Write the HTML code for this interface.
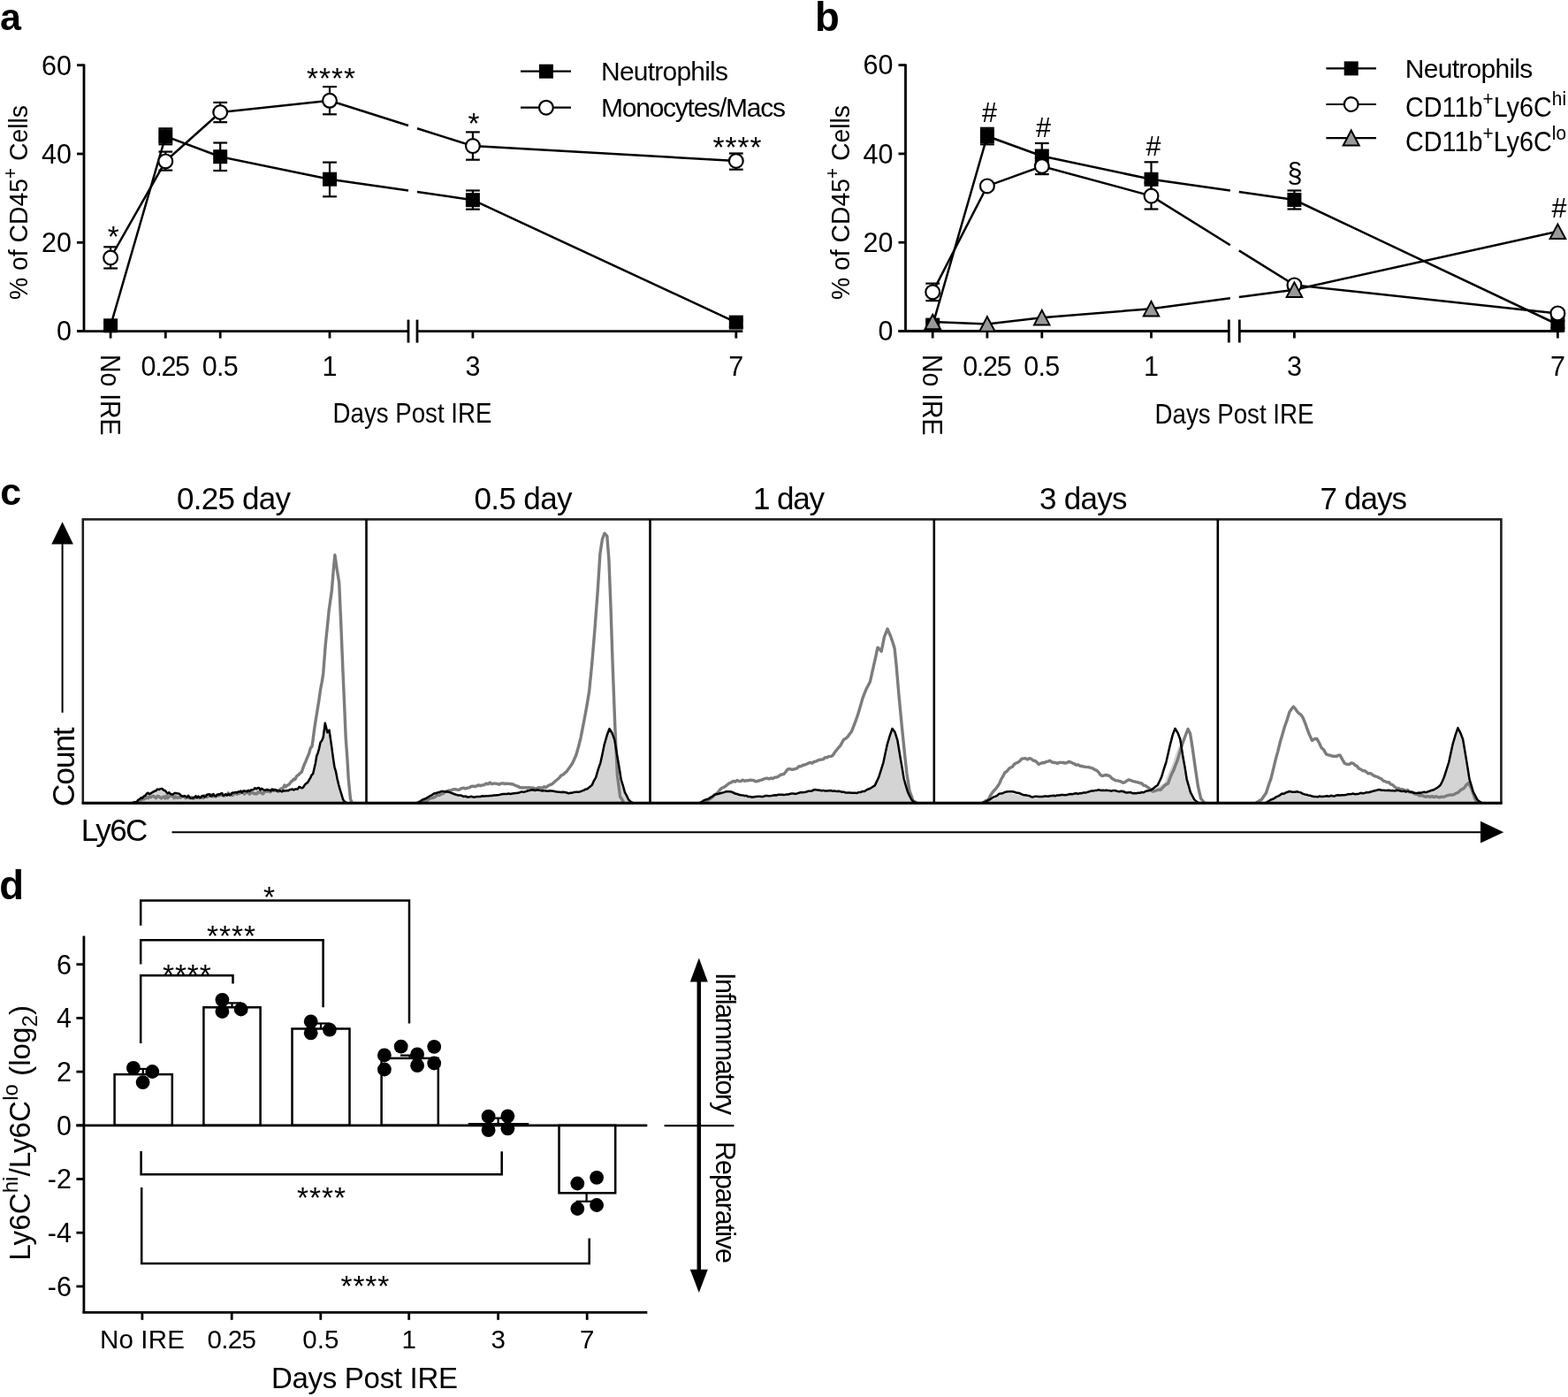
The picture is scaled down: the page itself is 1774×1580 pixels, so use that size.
<!DOCTYPE html><html><head><meta charset="utf-8"><title>Figure</title><style>html,body{margin:0;padding:0;background:#fff;}svg{display:block;}</style></head><body>
<svg width="1774" height="1580" viewBox="0 0 1774 1580" font-family='"Liberation Sans", Arial, sans-serif' fill="#000">
<rect width="1774" height="1580" fill="#fff"/>
<text x="0" y="34" font-size="43" font-weight="bold">a</text>
<text x="922" y="34.6" font-size="45.5" font-weight="bold">b</text>
<text x="0.3" y="571.3" font-size="43" font-weight="bold">c</text>
<text x="-0.7" y="1017" font-size="45.5" font-weight="bold">d</text>
<line x1="95" y1="72.4" x2="95" y2="376" stroke="#000" stroke-width="2.8"/>
<line x1="87" y1="374.6" x2="95" y2="374.6" stroke="#000" stroke-width="2.8"/>
<text x="81" y="385.4" font-size="30.5" text-anchor="end">0</text>
<line x1="87" y1="274.3" x2="95" y2="274.3" stroke="#000" stroke-width="2.8"/>
<text x="81" y="285.1" font-size="30.5" text-anchor="end">20</text>
<line x1="87" y1="174" x2="95" y2="174" stroke="#000" stroke-width="2.8"/>
<text x="81" y="184.8" font-size="30.5" text-anchor="end">40</text>
<line x1="87" y1="73.7" x2="95" y2="73.7" stroke="#000" stroke-width="2.8"/>
<text x="81" y="84.5" font-size="30.5" text-anchor="end">60</text>
<line x1="87" y1="374.6" x2="462" y2="374.6" stroke="#000" stroke-width="2.8"/>
<line x1="472" y1="374.6" x2="840.3" y2="374.6" stroke="#000" stroke-width="2.8"/>
<line x1="462" y1="361.6" x2="462" y2="387.6" stroke="#000" stroke-width="2.8"/>
<line x1="472" y1="361.6" x2="472" y2="387.6" stroke="#000" stroke-width="2.8"/>
<line x1="125.1" y1="374.6" x2="125.1" y2="382.6" stroke="#000" stroke-width="2.8"/>
<line x1="187.3" y1="374.6" x2="187.3" y2="382.6" stroke="#000" stroke-width="2.8"/>
<line x1="249.2" y1="374.6" x2="249.2" y2="382.6" stroke="#000" stroke-width="2.8"/>
<line x1="373" y1="374.6" x2="373" y2="382.6" stroke="#000" stroke-width="2.8"/>
<line x1="534.9" y1="374.6" x2="534.9" y2="382.6" stroke="#000" stroke-width="2.8"/>
<line x1="832.8" y1="374.6" x2="832.8" y2="382.6" stroke="#000" stroke-width="2.8"/>
<text x="187.3" y="425" font-size="30.5" text-anchor="middle" textLength="55.5" lengthAdjust="spacing">0.25</text>
<text x="249.2" y="425" font-size="30.5" text-anchor="middle" textLength="41" lengthAdjust="spacing">0.5</text>
<text x="373" y="425" font-size="30.5" text-anchor="middle">1</text>
<text x="534.9" y="425" font-size="30.5" text-anchor="middle">3</text>
<text x="832.8" y="425" font-size="30.5" text-anchor="middle">7</text>
<text x="113.6" y="401" font-size="30.5" textLength="91.5" lengthAdjust="spacingAndGlyphs" transform="rotate(90 113.6 401)">No IRE</text>
<text x="466.5" y="478" font-size="30.5" text-anchor="middle" textLength="180" lengthAdjust="spacingAndGlyphs">Days Post IRE</text>
<text transform="translate(31.3 339) rotate(-90)" font-size="29.5" textLength="220" lengthAdjust="spacingAndGlyphs">% of CD45<tspan font-size="21.5" dy="-12">+</tspan><tspan dy="12"> Cells</tspan></text>
<polyline points="125.1,368.3 187.3,154.2 249.2,177.2 373,202.7 462,215.6" fill="none" stroke="#000" stroke-width="2.5"/>
<polyline points="472,217.1 534.9,226.2 832.8,364.6" fill="none" stroke="#000" stroke-width="2.5"/>
<polyline points="125.1,291.5 187.3,182.4 249.2,127 373,113.8 462,142" fill="none" stroke="#000" stroke-width="2.5"/>
<polyline points="472,145.2 534.9,165.1 832.8,182" fill="none" stroke="#000" stroke-width="2.5"/>
<line x1="125.1" y1="365" x2="125.1" y2="372" stroke="#000" stroke-width="2.2"/>
<line x1="117.2" y1="365" x2="133" y2="365" stroke="#000" stroke-width="2.2"/>
<line x1="117.2" y1="372" x2="133" y2="372" stroke="#000" stroke-width="2.2"/>
<line x1="187.3" y1="145.3" x2="187.3" y2="163.3" stroke="#000" stroke-width="2.2"/>
<line x1="179.4" y1="145.3" x2="195.2" y2="145.3" stroke="#000" stroke-width="2.2"/>
<line x1="179.4" y1="163.3" x2="195.2" y2="163.3" stroke="#000" stroke-width="2.2"/>
<line x1="249.2" y1="161.5" x2="249.2" y2="193" stroke="#000" stroke-width="2.2"/>
<line x1="241.3" y1="161.5" x2="257.1" y2="161.5" stroke="#000" stroke-width="2.2"/>
<line x1="241.3" y1="193" x2="257.1" y2="193" stroke="#000" stroke-width="2.2"/>
<line x1="373" y1="183.6" x2="373" y2="222.3" stroke="#000" stroke-width="2.2"/>
<line x1="365.1" y1="183.6" x2="380.9" y2="183.6" stroke="#000" stroke-width="2.2"/>
<line x1="365.1" y1="222.3" x2="380.9" y2="222.3" stroke="#000" stroke-width="2.2"/>
<line x1="534.9" y1="215.5" x2="534.9" y2="236.7" stroke="#000" stroke-width="2.2"/>
<line x1="527" y1="215.5" x2="542.8" y2="215.5" stroke="#000" stroke-width="2.2"/>
<line x1="527" y1="236.7" x2="542.8" y2="236.7" stroke="#000" stroke-width="2.2"/>
<line x1="832.8" y1="362" x2="832.8" y2="370" stroke="#000" stroke-width="2.2"/>
<line x1="824.9" y1="362" x2="840.7" y2="362" stroke="#000" stroke-width="2.2"/>
<line x1="824.9" y1="370" x2="840.7" y2="370" stroke="#000" stroke-width="2.2"/>
<line x1="125.1" y1="279.3" x2="125.1" y2="303.5" stroke="#000" stroke-width="2.2"/>
<line x1="117.2" y1="279.3" x2="133" y2="279.3" stroke="#000" stroke-width="2.2"/>
<line x1="117.2" y1="303.5" x2="133" y2="303.5" stroke="#000" stroke-width="2.2"/>
<line x1="187.3" y1="171.6" x2="187.3" y2="192.6" stroke="#000" stroke-width="2.2"/>
<line x1="179.4" y1="171.6" x2="195.2" y2="171.6" stroke="#000" stroke-width="2.2"/>
<line x1="179.4" y1="192.6" x2="195.2" y2="192.6" stroke="#000" stroke-width="2.2"/>
<line x1="249.2" y1="115.9" x2="249.2" y2="138.2" stroke="#000" stroke-width="2.2"/>
<line x1="241.3" y1="115.9" x2="257.1" y2="115.9" stroke="#000" stroke-width="2.2"/>
<line x1="241.3" y1="138.2" x2="257.1" y2="138.2" stroke="#000" stroke-width="2.2"/>
<line x1="373" y1="98.1" x2="373" y2="129.3" stroke="#000" stroke-width="2.2"/>
<line x1="365.1" y1="98.1" x2="380.9" y2="98.1" stroke="#000" stroke-width="2.2"/>
<line x1="365.1" y1="129.3" x2="380.9" y2="129.3" stroke="#000" stroke-width="2.2"/>
<line x1="534.9" y1="149.4" x2="534.9" y2="180.7" stroke="#000" stroke-width="2.2"/>
<line x1="527" y1="149.4" x2="542.8" y2="149.4" stroke="#000" stroke-width="2.2"/>
<line x1="527" y1="180.7" x2="542.8" y2="180.7" stroke="#000" stroke-width="2.2"/>
<line x1="832.8" y1="173.5" x2="832.8" y2="191.7" stroke="#000" stroke-width="2.2"/>
<line x1="824.9" y1="173.5" x2="840.7" y2="173.5" stroke="#000" stroke-width="2.2"/>
<line x1="824.9" y1="191.7" x2="840.7" y2="191.7" stroke="#000" stroke-width="2.2"/>
<rect x="117.1" y="360.3" width="16" height="16" fill="#000"/>
<rect x="179.3" y="146.2" width="16" height="16" fill="#000"/>
<rect x="241.2" y="169.2" width="16" height="16" fill="#000"/>
<rect x="365" y="194.7" width="16" height="16" fill="#000"/>
<rect x="526.9" y="218.2" width="16" height="16" fill="#000"/>
<rect x="824.8" y="356.6" width="16" height="16" fill="#000"/>
<circle cx="125.1" cy="291.5" r="7.9" fill="#fff" stroke="#000" stroke-width="2.2"/>
<circle cx="187.3" cy="182.4" r="7.9" fill="#fff" stroke="#000" stroke-width="2.2"/>
<circle cx="249.2" cy="127" r="7.9" fill="#fff" stroke="#000" stroke-width="2.2"/>
<circle cx="373" cy="113.8" r="7.9" fill="#fff" stroke="#000" stroke-width="2.2"/>
<circle cx="534.9" cy="165.1" r="7.9" fill="#fff" stroke="#000" stroke-width="2.2"/>
<circle cx="832.8" cy="182" r="7.9" fill="#fff" stroke="#000" stroke-width="2.2"/>
<text x="128" y="304" font-size="36"></text>
<g font-size="37" text-anchor="middle">
<text x="128.2" y="279.3" font-size="33.5" text-anchor="middle">*</text>
<text x="374.6" y="100.3" font-size="33.5" text-anchor="middle" textLength="55" lengthAdjust="spacing">****</text>
<text x="536" y="151" font-size="33.5" text-anchor="middle">*</text>
<text x="834" y="177.9" font-size="33.5" text-anchor="middle" textLength="55" lengthAdjust="spacing">****</text>
</g>
<line x1="589" y1="80.7" x2="646" y2="80.7" stroke="#000" stroke-width="2.2"/>
<rect x="609.9" y="72.7" width="16" height="16" fill="#000"/>
<line x1="589" y1="121.7" x2="646" y2="121.7" stroke="#000" stroke-width="2.2"/>
<circle cx="617.9" cy="121.7" r="7.9" fill="#fff" stroke="#000" stroke-width="2.2"/>
<text x="680" y="91" font-size="30" textLength="144" lengthAdjust="spacing">Neutrophils</text>
<text x="680" y="132" font-size="30" textLength="209" lengthAdjust="spacing">Monocytes/Macs</text>
<line x1="1024.5" y1="72.4" x2="1024.5" y2="375.9" stroke="#000" stroke-width="2.8"/>
<line x1="1016.5" y1="374.5" x2="1024.5" y2="374.5" stroke="#000" stroke-width="2.8"/>
<text x="1010.5" y="385.3" font-size="30.5" text-anchor="end">0</text>
<line x1="1016.5" y1="274.2" x2="1024.5" y2="274.2" stroke="#000" stroke-width="2.8"/>
<text x="1010.5" y="285" font-size="30.5" text-anchor="end">20</text>
<line x1="1016.5" y1="173.9" x2="1024.5" y2="173.9" stroke="#000" stroke-width="2.8"/>
<text x="1010.5" y="184.7" font-size="30.5" text-anchor="end">40</text>
<line x1="1016.5" y1="73.6" x2="1024.5" y2="73.6" stroke="#000" stroke-width="2.8"/>
<text x="1010.5" y="84.4" font-size="30.5" text-anchor="end">60</text>
<line x1="1016.5" y1="374.5" x2="1390.3" y2="374.5" stroke="#000" stroke-width="2.8"/>
<line x1="1402.3" y1="374.5" x2="1769.9" y2="374.5" stroke="#000" stroke-width="2.8"/>
<line x1="1390.3" y1="361.5" x2="1390.3" y2="387.5" stroke="#000" stroke-width="2.8"/>
<line x1="1402.3" y1="361.5" x2="1402.3" y2="387.5" stroke="#000" stroke-width="2.8"/>
<line x1="1055.2" y1="374.5" x2="1055.2" y2="382.5" stroke="#000" stroke-width="2.8"/>
<line x1="1116.9" y1="374.5" x2="1116.9" y2="382.5" stroke="#000" stroke-width="2.8"/>
<line x1="1178.8" y1="374.5" x2="1178.8" y2="382.5" stroke="#000" stroke-width="2.8"/>
<line x1="1302.5" y1="374.5" x2="1302.5" y2="382.5" stroke="#000" stroke-width="2.8"/>
<line x1="1464.4" y1="374.5" x2="1464.4" y2="382.5" stroke="#000" stroke-width="2.8"/>
<line x1="1762.4" y1="374.5" x2="1762.4" y2="382.5" stroke="#000" stroke-width="2.8"/>
<text x="1116.9" y="425" font-size="30.5" text-anchor="middle" textLength="55.5" lengthAdjust="spacing">0.25</text>
<text x="1178.8" y="425" font-size="30.5" text-anchor="middle" textLength="41" lengthAdjust="spacing">0.5</text>
<text x="1302.5" y="425" font-size="30.5" text-anchor="middle">1</text>
<text x="1464.4" y="425" font-size="30.5" text-anchor="middle">3</text>
<text x="1762.4" y="425" font-size="30.5" text-anchor="middle">7</text>
<text x="1043.7" y="401" font-size="30.5" textLength="91.5" lengthAdjust="spacingAndGlyphs" transform="rotate(90 1043.7 401)">No IRE</text>
<text x="1396.5" y="479" font-size="30.5" text-anchor="middle" textLength="180" lengthAdjust="spacingAndGlyphs">Days Post IRE</text>
<text transform="translate(960.8 339) rotate(-90)" font-size="29.5" textLength="220" lengthAdjust="spacingAndGlyphs">% of CD45<tspan font-size="21.5" dy="-12">+</tspan><tspan dy="12"> Cells</tspan></text>
<polyline points="1055.2,367.6 1116.9,154 1178.8,176.5 1302.5,202.8 1391.8,215.6" fill="none" stroke="#000" stroke-width="2.5"/>
<polyline points="1401.8,217 1464.4,226 1762.4,367" fill="none" stroke="#000" stroke-width="2.5"/>
<polyline points="1055.2,330.4 1116.9,210.4 1178.8,188 1302.5,221.6 1391.8,277.2" fill="none" stroke="#000" stroke-width="2.5"/>
<polyline points="1401.8,283.4 1464.4,322.4 1762.4,354.4" fill="none" stroke="#000" stroke-width="2.5"/>
<polyline points="1055.2,364 1116.9,366.5 1178.8,359.2 1302.5,349.2 1391.8,337.3" fill="none" stroke="#000" stroke-width="2.5"/>
<polyline points="1401.8,336 1464.4,327.7 1762.4,261.8" fill="none" stroke="#000" stroke-width="2.5"/>
<line x1="1055.2" y1="364" x2="1055.2" y2="371" stroke="#000" stroke-width="2.2"/>
<line x1="1047.3" y1="364" x2="1063.1" y2="364" stroke="#000" stroke-width="2.2"/>
<line x1="1047.3" y1="371" x2="1063.1" y2="371" stroke="#000" stroke-width="2.2"/>
<line x1="1116.9" y1="144.8" x2="1116.9" y2="163.3" stroke="#000" stroke-width="2.2"/>
<line x1="1109" y1="144.8" x2="1124.8" y2="144.8" stroke="#000" stroke-width="2.2"/>
<line x1="1109" y1="163.3" x2="1124.8" y2="163.3" stroke="#000" stroke-width="2.2"/>
<line x1="1178.8" y1="162" x2="1178.8" y2="191" stroke="#000" stroke-width="2.2"/>
<line x1="1170.9" y1="162" x2="1186.7" y2="162" stroke="#000" stroke-width="2.2"/>
<line x1="1170.9" y1="191" x2="1186.7" y2="191" stroke="#000" stroke-width="2.2"/>
<line x1="1302.5" y1="183.3" x2="1302.5" y2="222" stroke="#000" stroke-width="2.2"/>
<line x1="1294.6" y1="183.3" x2="1310.4" y2="183.3" stroke="#000" stroke-width="2.2"/>
<line x1="1294.6" y1="222" x2="1310.4" y2="222" stroke="#000" stroke-width="2.2"/>
<line x1="1464.4" y1="215.5" x2="1464.4" y2="236.5" stroke="#000" stroke-width="2.2"/>
<line x1="1456.5" y1="215.5" x2="1472.3" y2="215.5" stroke="#000" stroke-width="2.2"/>
<line x1="1456.5" y1="236.5" x2="1472.3" y2="236.5" stroke="#000" stroke-width="2.2"/>
<line x1="1762.4" y1="363" x2="1762.4" y2="371" stroke="#000" stroke-width="2.2"/>
<line x1="1754.5" y1="363" x2="1770.3" y2="363" stroke="#000" stroke-width="2.2"/>
<line x1="1754.5" y1="371" x2="1770.3" y2="371" stroke="#000" stroke-width="2.2"/>
<line x1="1055.2" y1="320.6" x2="1055.2" y2="340.1" stroke="#000" stroke-width="2.2"/>
<line x1="1047.3" y1="320.6" x2="1063.1" y2="320.6" stroke="#000" stroke-width="2.2"/>
<line x1="1047.3" y1="340.1" x2="1063.1" y2="340.1" stroke="#000" stroke-width="2.2"/>
<line x1="1116.9" y1="207" x2="1116.9" y2="214" stroke="#000" stroke-width="2.2"/>
<line x1="1109" y1="207" x2="1124.8" y2="207" stroke="#000" stroke-width="2.2"/>
<line x1="1109" y1="214" x2="1124.8" y2="214" stroke="#000" stroke-width="2.2"/>
<line x1="1178.8" y1="179" x2="1178.8" y2="197.1" stroke="#000" stroke-width="2.2"/>
<line x1="1170.9" y1="179" x2="1186.7" y2="179" stroke="#000" stroke-width="2.2"/>
<line x1="1170.9" y1="197.1" x2="1186.7" y2="197.1" stroke="#000" stroke-width="2.2"/>
<line x1="1302.5" y1="206.7" x2="1302.5" y2="236.5" stroke="#000" stroke-width="2.2"/>
<line x1="1294.6" y1="206.7" x2="1310.4" y2="206.7" stroke="#000" stroke-width="2.2"/>
<line x1="1294.6" y1="236.5" x2="1310.4" y2="236.5" stroke="#000" stroke-width="2.2"/>
<line x1="1464.4" y1="319" x2="1464.4" y2="326" stroke="#000" stroke-width="2.2"/>
<line x1="1456.5" y1="319" x2="1472.3" y2="319" stroke="#000" stroke-width="2.2"/>
<line x1="1456.5" y1="326" x2="1472.3" y2="326" stroke="#000" stroke-width="2.2"/>
<line x1="1762.4" y1="351" x2="1762.4" y2="358" stroke="#000" stroke-width="2.2"/>
<line x1="1754.5" y1="351" x2="1770.3" y2="351" stroke="#000" stroke-width="2.2"/>
<line x1="1754.5" y1="358" x2="1770.3" y2="358" stroke="#000" stroke-width="2.2"/>
<rect x="1047.2" y="359.6" width="16" height="16" fill="#000"/>
<rect x="1108.9" y="146" width="16" height="16" fill="#000"/>
<rect x="1170.8" y="168.5" width="16" height="16" fill="#000"/>
<rect x="1294.5" y="194.8" width="16" height="16" fill="#000"/>
<rect x="1456.4" y="218" width="16" height="16" fill="#000"/>
<rect x="1754.4" y="359" width="16" height="16" fill="#000"/>
<circle cx="1055.2" cy="330.4" r="7.9" fill="#fff" stroke="#000" stroke-width="2.2"/>
<circle cx="1116.9" cy="210.4" r="7.9" fill="#fff" stroke="#000" stroke-width="2.2"/>
<circle cx="1178.8" cy="188" r="7.9" fill="#fff" stroke="#000" stroke-width="2.2"/>
<circle cx="1302.5" cy="221.6" r="7.9" fill="#fff" stroke="#000" stroke-width="2.2"/>
<circle cx="1464.4" cy="322.4" r="7.9" fill="#fff" stroke="#000" stroke-width="2.2"/>
<circle cx="1762.4" cy="354.4" r="7.9" fill="#fff" stroke="#000" stroke-width="2.2"/>
<polygon points="1055.2,355.8 1064,372.2 1046.5,372.2" fill="#999" stroke="#000" stroke-width="2" stroke-linejoin="miter"/>
<polygon points="1116.9,358.2 1125.7,374.8 1108.2,374.8" fill="#999" stroke="#000" stroke-width="2" stroke-linejoin="miter"/>
<polygon points="1178.8,350.9 1187.5,367.4 1170,367.4" fill="#999" stroke="#000" stroke-width="2" stroke-linejoin="miter"/>
<polygon points="1302.5,340.9 1311.2,357.4 1293.8,357.4" fill="#999" stroke="#000" stroke-width="2" stroke-linejoin="miter"/>
<polygon points="1464.4,319.4 1473.2,335.9 1455.7,335.9" fill="#999" stroke="#000" stroke-width="2" stroke-linejoin="miter"/>
<polygon points="1762.4,253.6 1771.2,270.1 1753.7,270.1" fill="#999" stroke="#000" stroke-width="2" stroke-linejoin="miter"/>
<text x="1119.5" y="137.5" font-size="30.5" text-anchor="middle">#</text>
<text x="1180.5" y="154.5" font-size="30.5" text-anchor="middle">#</text>
<text x="1305" y="175.5" font-size="30.5" text-anchor="middle">#</text>
<text x="1465" y="205.5" font-size="30.5" text-anchor="middle">§</text>
<text x="1764" y="246" font-size="30.5" text-anchor="middle">#</text>
<line x1="1500.4" y1="77.4" x2="1557" y2="77.4" stroke="#000" stroke-width="2.2"/>
<rect x="1520.7" y="69.4" width="16" height="16" fill="#000"/>
<line x1="1500.4" y1="118" x2="1557" y2="118" stroke="#000" stroke-width="2.2"/>
<circle cx="1528.7" cy="118" r="7.9" fill="#fff" stroke="#000" stroke-width="2.2"/>
<line x1="1500.4" y1="156.2" x2="1557" y2="156.2" stroke="#000" stroke-width="2.2"/>
<polygon points="1528.7,147.5 1537.7,164.5 1519.7,164.5" fill="#999" stroke="#000" stroke-width="2" stroke-linejoin="miter"/>
<text x="1589.8" y="88" font-size="30" textLength="144.5" lengthAdjust="spacing">Neutrophils</text>
<text x="1590" y="132" font-size="30.5" textLength="182" lengthAdjust="spacingAndGlyphs">CD11b<tspan font-size="22" dy="-13">+</tspan><tspan dy="13">Ly6C</tspan><tspan font-size="22" dy="-13">hi</tspan></text>
<text x="1590" y="170.5" font-size="30.5" textLength="182" lengthAdjust="spacingAndGlyphs">CD11b<tspan font-size="22" dy="-13">+</tspan><tspan dy="13">Ly6C</tspan><tspan font-size="22" dy="-13">lo</tspan></text>
<text x="200" y="575.5" font-size="35" textLength="129" lengthAdjust="spacing">0.25 day</text>
<text x="536.5" y="575.5" font-size="35" textLength="111" lengthAdjust="spacing">0.5 day</text>
<text x="852" y="575.5" font-size="35" textLength="81" lengthAdjust="spacing">1 day</text>
<text x="1176" y="575.5" font-size="35" textLength="99.5" lengthAdjust="spacing">3 days</text>
<text x="1493.5" y="575.5" font-size="35" textLength="98.5" lengthAdjust="spacing">7 days</text>
<path d="M149.4,908.2 L149.4,908.3 L157.9,904.5 L164.2,899.2 L174.8,893.9 L181.2,892.8 L189.7,896 L200.3,898.1 L217.3,902 L238.5,899.2 L259.7,898.1 L280.9,893.9 L291.5,892.2 L302.1,893.5 L323.3,894.3 L333.9,891.8 L344.5,889.2 L349.8,883.3 L354.1,874.8 L358.3,855.7 L362.5,840.9 L365.7,832.4 L367.8,818.6 L370.4,827.1 L372.5,826 L375.3,845.1 L378.4,866.3 L381.6,881.2 L384.8,893.9 L388,904.5 L392.2,908.3 L392.2,908.2 Z" fill="#d4d4d4" stroke="none"/>
<path d="M471.5,908.2 L471.5,908.3 L482.1,902.8 L490.6,898.1 L499.1,895.6 L507.6,895.6 L516,898.6 L528.8,901.3 L541.5,900.9 L558.5,899.4 L579.7,897.5 L592.4,895.6 L600.9,893.5 L613.6,894.3 L622.1,894.3 L632.7,895.6 L643.3,897.1 L653.9,896 L664.5,892.2 L669.8,888 L674.1,879 L679.4,862.1 L683.6,843 L686.8,831.3 L689.5,823.9 L692.5,828.6 L695.3,836.6 L698.4,855.7 L702.7,881.2 L706.9,896 L711.2,904.5 L716.5,908.3 L716.5,908.2 Z" fill="#d4d4d4" stroke="none"/>
<path d="M791.5,908.2 L791.5,908.3 L802.1,902.8 L810.6,898.1 L819.1,895.6 L827.6,895.6 L836,898.6 L848.8,901.3 L861.5,900.9 L878.5,899.4 L899.7,897.5 L912.4,895.6 L920.9,893.5 L933.6,894.3 L942.1,894.3 L952.7,895.6 L963.3,897.1 L973.9,896 L984.5,892.2 L989.8,888 L994.1,879 L999.4,862.1 L1003.6,843 L1006.8,831.3 L1009.5,823.9 L1012.5,828.6 L1015.3,836.6 L1018.4,855.7 L1022.7,881.2 L1026.9,896 L1031.2,904.5 L1036.5,908.3 L1036.5,908.2 Z" fill="#d4d4d4" stroke="none"/>
<path d="M1113.6,908.2 L1113.6,908.3 L1124.2,903.4 L1134.8,898.1 L1143.3,897.1 L1153.9,899.2 L1168.8,902.4 L1198.5,900.3 L1219.7,898.1 L1240.9,895 L1262.1,895.6 L1283.3,897.1 L1304.5,893.9 L1317.2,885.4 L1325.7,866.3 L1330,853.6 L1333.8,843 L1336.7,847.2 L1340.6,866.3 L1344.8,889.7 L1349,904.5 L1352.2,908.3 L1352.2,908.2 Z" fill="#d4d4d4" stroke="none"/>
<path d="M1431.5,908.2 L1431.5,908.1 L1442.1,902.6 L1450.5,897.9 L1459,895.4 L1467.5,895.4 L1476,898.4 L1488.7,901.1 L1501.4,900.7 L1518.4,899.2 L1539.6,897.3 L1552.3,895.4 L1560.8,893.3 L1573.5,894.1 L1582,894.1 L1592.6,895.4 L1603.1,896.9 L1613.7,895.8 L1624.3,892 L1629.6,887.8 L1633.9,878.9 L1639.2,861.9 L1643.4,842.8 L1646.6,831.2 L1649.4,823.7 L1652.3,828.4 L1655.1,836.5 L1658.3,855.5 L1662.5,881 L1666.7,895.8 L1671,904.3 L1676.3,908.1 L1676.3,908.2 Z" fill="#d4d4d4" stroke="none"/>
<polyline points="153.6,908.2 155.2,907.4 156.8,905.8 158.4,904.3 160,905 161.5,902.8 163,903.9 164.5,903 166,901.6 167.6,902.7 169.1,900.8 170.6,901.7 172.1,900.5 173.6,900.5 175,901.5 176.5,902.7 178,900.4 179.5,900.7 181,901.9 182.5,902.9 184,901.6 185.4,901 186.9,902.9 188.3,900 189.8,902.6 191.2,900.8 192.7,900.4 194.1,900.4 195.6,901 197,902.7 198.5,900.7 199.9,902.1 201.3,902.3 202.8,901.5 204.2,902.1 205.7,900.6 207.1,900.6 208.6,901.1 210,902.7 211.5,902 212.9,901.6 214.4,902.6 215.8,902.2 217.3,901.7 218.7,903.2 220.1,902.7 221.5,901.1 222.9,902 224.3,901.7 225.7,902.7 227.2,902.1 228.6,900.6 230,902.6 231.4,899.7 232.8,900.6 234.2,901.5 235.6,899.4 237,900.4 238.5,898.8 239.9,900.7 241.3,900.8 242.7,900.1 244.1,900.9 245.5,899 246.9,900 248.4,899.6 249.8,899.4 251.2,898.8 252.6,899.9 254,900.1 255.4,898.5 256.8,898.9 258.3,896.9 259.7,898.8 261.1,898.5 262.5,899.6 263.9,899 265.3,897.2 266.7,897.4 268.2,898.2 269.6,896.1 271,897.4 272.4,896.4 273.8,896.2 275.2,895.9 276.6,898.1 278.1,896 279.5,896.3 280.9,896.7 282.3,898.2 283.7,895.6 285.1,896.7 286.5,896.9 287.9,897.9 289.4,897.7 290.8,897.7 292.2,895.8 293.6,896.2 295,895.9 296.4,897.5 297.8,897.7 299.3,895 300.7,895 302.1,895.2 303.5,894.9 304.9,895.5 306.3,895.6 307.7,894.3 309.2,893.2 310.6,894.3 312,893.9 313.4,894.3 314.8,895.3 316.2,893.6 317.6,892.2 319.1,891.6 320.5,890.9 321.9,888 323.3,889.9 324.8,888.4 326.3,887.7 327.8,886.4 329.4,884 330.9,883 332.4,881 333.9,881.6 335.4,878.3 336.9,876.8 338.4,875.8 339.8,874.1 341.3,873.2 342.9,868.3 344.5,864.2 346.1,860.7 347.7,856.6 349.5,852.5 351.2,846.4 353,844.2 354.4,834.2 355.8,823.5 357.2,814.6 359,803.6 360.8,792.4 362.5,780.3 364.1,772 365.7,761.9 368.3,728.4 370.2,710.4 372.1,691.1 373.7,679.5 375.3,668.6 377.4,642.9 378.9,627.7 381,642.5 383.7,659.1 385.9,708.7 388,760.4 389.6,796.3 391.2,834.6 392.8,856.3 394.3,881.3 396.5,903.9 398.6,908.3" fill="none" stroke="#7c7c7c" stroke-width="3.4" stroke-linejoin="round"/>
<polyline points="149.4,908.2 150.8,907.7 152.2,907 153.6,907.5 155,906.4 156.5,904.4 157.9,904.1 159.5,902.2 161,902.7 162.6,900.6 164.2,900 165.7,897.9 167.3,896.8 168.8,897.9 170.3,897.6 171.8,896.5 173.3,895.6 174.8,894.8 176.4,894.3 178,892.5 179.6,893.1 181.2,892.4 182.6,891.9 184,892.5 185.4,893.8 186.9,894.2 188.3,896.1 189.7,897.4 191.2,896.2 192.7,897.9 194.2,898.4 195.7,898.6 197.3,897.1 198.8,897 200.3,897.3 201.7,897.5 203.1,897.9 204.5,899.5 205.9,900.6 207.4,900.7 208.8,900 210.2,900.8 211.6,901.6 213,899.8 214.4,901.8 215.8,902.9 217.3,902.8 218.7,902.5 220.1,901.5 221.5,900.4 222.9,902.1 224.3,900.5 225.7,901.8 227.2,902.1 228.6,900.2 230,900 231.4,901.5 232.8,900.6 234.2,898.8 235.6,898.4 237,898.3 238.5,900.4 239.9,900 241.3,898 242.7,900 244.1,900.4 245.5,899.3 246.9,898.3 248.4,898.8 249.8,897.5 251.2,897.1 252.6,899.9 254,898.9 255.4,898.4 256.8,899.6 258.3,898 259.7,899.2 261.1,898.8 262.5,896.7 263.9,896.5 265.3,896.4 266.7,895.9 268.2,896.7 269.6,895.4 271,895.6 272.4,894.5 273.8,896.5 275.2,894.6 276.6,894.6 278.1,894.7 279.5,895.4 280.9,893.7 282.4,894.9 283.9,893.4 285.4,893.3 286.9,893 288.5,891.2 290,892.3 291.5,891.2 293,890.9 294.5,893.5 296,891.8 297.5,892.8 299.1,893.8 300.6,893.5 302.1,892.9 303.5,893.6 304.9,893.7 306.3,894.5 307.7,892.5 309.2,893.9 310.6,893.1 312,893.2 313.4,894.7 314.8,894 316.2,894.2 317.6,894.9 319.1,895.4 320.5,894 321.9,894.6 323.3,894.3 324.8,894 326.3,894.2 327.8,893.1 329.4,893 330.9,892.4 332.4,893.5 333.9,892.4 335.4,892.5 336.9,892.4 338.4,890 340,890.5 341.5,891.3 343,890.6 344.5,888.1 346.3,886.1 348,885.1 349.8,882 351.2,879.7 352.6,876.4 354.1,875.3 355.5,869.3 356.9,863.3 358.3,854.7 359.7,851.4 361.1,846.3 362.5,839.8 364.1,837.8 365.7,833.8 367.8,817.8 370.4,828.4 372.5,825.7 375.3,845.1 376.9,857.2 378.4,867.3 380,872.7 381.6,881 383.2,887.6 384.8,893.4 386.4,898.3 388,904 389.4,906.4 390.8,907 392.2,908.3" fill="none" stroke="#000" stroke-width="2.5" stroke-linejoin="round"/>
<polyline points="473.6,908.2 475.7,907.6 477.9,906.9 480,905.5 482.1,905.6 484.2,904.6 486.4,903 488.5,902.6 490.6,902.1 492.7,900.9 494.8,899.1 497,899.5 499.1,898.2 501.2,897.7 503.3,895.6 505.4,895 507.6,893.9 509.7,894.3 511.8,893.2 513.9,892.7 516,892.8 518.2,893.3 520.3,892.8 522.4,891.6 524.5,891.1 526.6,892 528.8,891.1 530.9,890.9 533,889.5 535.1,889.1 537.3,889.7 539.4,888.9 541.5,887.9 543.6,888.8 545.7,887.9 547.9,887.7 550,886.1 552.1,886.9 554.2,885.1 556.3,886.6 558.5,886.1 560.6,886.1 562.7,886.6 564.8,887.2 566.9,886.1 569.1,885.9 571.2,886.5 573.3,886.3 575.4,886.4 577.6,886.7 579.7,886.8 581.8,887.7 583.9,888.6 586,889.3 588.2,890.7 590.3,890.6 592.4,891 594.5,890.6 596.6,891 598.8,890.6 600.9,891.1 603,890.9 605.1,892.1 607.2,891.6 609.4,890.7 611.5,890.9 613.6,891.3 615.7,889.7 617.8,890.6 620,888.8 622.1,887.7 624.2,887.1 626.3,885.2 628.5,883.3 630.6,881.5 632.7,879.8 634.8,877.1 636.9,876.2 639.1,874.3 641.2,872.5 643.3,869.4 645.4,866.6 647.5,863.5 649.7,858.8 651.8,854 654.4,845 657.1,834.1 659.2,823.4 661.3,812.6 664,797.9 666.6,782.1 669.8,749.9 673,711.1 676.2,668.7 678.9,626.3 681.5,609.6 684,603.2 686.8,606.4 688.9,632.6 691,686.8 693.1,750.4 695.9,824 698.4,876.5 701.6,901 703.7,904 705.9,908.3" fill="none" stroke="#7c7c7c" stroke-width="3.4" stroke-linejoin="round"/>
<polyline points="471.5,908.2 473.6,907.2 475.7,906 477.9,904.5 480,903.8 482.1,902.8 484.2,901.6 486.4,900.2 488.5,899.3 490.6,897.6 492.7,897.3 494.8,896.5 497,896.1 499.1,895.1 501.2,895.1 503.3,895.4 505.4,895.3 507.6,895.7 509.7,896.4 511.8,897.3 513.9,898 516,898.8 518.2,899.4 520.3,899.4 522.4,899.8 524.5,900.9 526.6,900.5 528.8,901.5 530.9,901.4 533,900.7 535.1,901.4 537.3,901.4 539.4,901.1 541.5,901.1 543.6,901 545.7,900.2 547.9,900.4 550,900.2 552.1,900.3 554.2,900.1 556.3,899.9 558.5,899.5 560.6,899.6 562.7,899.2 564.8,899 566.9,898.4 569.1,898 571.2,897.9 573.3,897.9 575.4,897.5 577.6,898 579.7,897.6 581.8,897.3 583.9,897 586,896.7 588.2,896.2 590.3,895.4 592.4,895.9 594.5,895.3 596.6,894.5 598.8,894 600.9,893.6 603,893.2 605.1,894 607.2,893.6 609.4,893.6 611.5,893.9 613.6,894.5 615.7,894 617.8,894.6 620,894.8 622.1,894.3 624.2,894.5 626.3,894.8 628.5,895.3 630.6,895.6 632.7,895.7 634.8,896 636.9,895.8 639.1,896.1 641.2,896.5 643.3,897.3 645.4,896.7 647.5,896.7 649.7,895.9 651.8,895.8 653.9,895.8 656,895.4 658.1,894.7 660.3,893.9 662.4,892.7 664.5,892.2 667.2,890 669.8,887.9 671.9,883.1 674.1,879.4 676.7,870.3 679.4,862.6 681.5,853 683.6,842.5 686.8,831.3 689.5,824.2 692.5,829 695.3,836.6 698.4,855.5 700.6,868.2 702.7,881.6 704.8,888.3 706.9,896.1 709,899.9 711.2,904.5 713.8,906.9 716.5,908.3" fill="none" stroke="#000" stroke-width="2.5" stroke-linejoin="round"/>
<polyline points="793.6,908.2 795.7,907.3 797.9,905.6 800,905.6 802.1,904.1 804.2,903.1 806.4,901.1 808.5,898.8 810.6,898 812.7,895.5 814.8,892.9 817,891 819.1,890.3 821.2,888.9 823.3,887.2 825.4,885.7 827.6,884.7 829.7,883.4 831.8,884.1 833.9,882.5 836,883.6 838.2,883.5 840.3,882.2 842.4,883.3 844.5,882.8 846.6,882.9 848.8,882.1 850.9,882.4 853,882.7 855.1,883.9 857.3,883.4 859.4,882.6 861.5,882.2 863.6,881.4 865.7,880.5 867.9,880.1 870,881 872.1,879.9 874.2,880.7 876.3,879.3 878.5,879.1 880.6,878.3 882.7,876.6 884.8,875.8 886.9,875.5 889.1,872.8 891.2,870 893.3,869.7 895.4,870.2 897.6,870.2 899.7,869.6 901.8,868.9 903.9,866.8 906,866.9 908.2,865.5 910.3,865 912.4,864.3 914.5,863.3 916.6,862.4 918.8,863.3 920.9,861.5 923,861.2 925.1,860.1 927.2,859.2 929.4,859.1 931.5,858.6 933.6,856.8 935.7,856.8 937.8,855.6 940,855.4 942.1,854.5 944.2,851.3 946.3,848.5 948.5,845.7 950.6,843.6 952.7,839.8 954.8,836.2 956.9,835.2 959.1,833.2 961.2,830.2 963.3,827.6 965.4,822.3 967.5,816.9 969.7,810.9 971.8,804.2 973.9,797 976,789.6 978.1,784.2 980.3,778.9 982.4,775 984.5,770.7 986.6,761.2 988.7,751.8 990.9,742.1 993,732.4 995.1,734.1 997.2,736.6 1000.4,720.7 1004,711.3 1007.8,720 1010,726.5 1012.1,733.3 1014.2,753.5 1016.7,783.2 1019.5,812.9 1022.7,845 1025.9,874.7 1029,894.6 1031.2,900.3 1033.3,906.2 1035.4,906.9 1037.5,908.3" fill="none" stroke="#7c7c7c" stroke-width="3.4" stroke-linejoin="round"/>
<polyline points="791.5,908.2 793.6,907.2 795.7,905.6 797.9,904.5 800,904.1 802.1,903.2 804.2,901.6 806.4,900.6 808.5,898.8 810.6,898 812.7,897.9 814.8,897.2 817,896.6 819.1,896.1 821.2,895.3 823.3,895.2 825.4,895.2 827.6,895.6 829.7,896.5 831.8,897.5 833.9,898 836,898.7 838.2,899.3 840.3,899.4 842.4,900 844.5,899.9 846.6,901.1 848.8,901 850.9,901.7 853,901.3 855.1,900.9 857.3,900.7 859.4,900.7 861.5,901 863.6,900.9 865.7,900.1 867.9,899.9 870,900.2 872.1,900 874.2,899.7 876.3,899.3 878.5,899.5 880.6,898.7 882.7,898.8 884.8,898.8 886.9,899.1 889.1,898.6 891.2,898.6 893.3,898 895.4,897.6 897.6,897.4 899.7,898 901.8,897.4 903.9,896.7 906,896.1 908.2,896.2 910.3,896.1 912.4,895.5 914.5,894.8 916.6,894.7 918.8,894.4 920.9,893.2 923,893.1 925.1,893.6 927.2,893.8 929.4,894.2 931.5,893.9 933.6,894.6 935.7,894.6 937.8,894.3 940,894 942.1,894.8 944.2,894.4 946.3,895.1 948.5,894.8 950.6,895.1 952.7,895.8 954.8,895.7 956.9,896.6 959.1,896.5 961.2,896.5 963.3,896.8 965.4,896.8 967.5,896.8 969.7,896.9 971.8,895.9 973.9,895.9 976,895 978.1,895 980.3,893.4 982.4,892.5 984.5,891.8 987.2,890 989.8,888.4 991.9,883.9 994.1,879.3 996.7,871.1 999.4,862.5 1001.5,852.4 1003.6,842.7 1006.8,831.8 1009.5,824.1 1012.5,828.1 1015.3,836.8 1018.4,855.6 1020.6,868.3 1022.7,881 1024.8,888.3 1026.9,895.5 1029,900 1031.2,904.3 1033.8,906.9 1036.5,908.3" fill="none" stroke="#000" stroke-width="2.5" stroke-linejoin="round"/>
<polyline points="1111.5,908.2 1113.6,907 1115.7,905.2 1117.9,905.2 1120.5,899.8 1123.2,895.8 1125.6,893.3 1128.1,890.2 1130.6,886.4 1132.7,881.5 1134.8,877.9 1137,873.5 1139.1,872.6 1141.2,869.7 1143.3,868.2 1145.4,867.3 1147.6,864.2 1149.7,863 1151.8,862.2 1153.9,860.7 1156,858.2 1158.2,857.9 1160.3,857.8 1162.4,858.9 1164.5,857.7 1166.6,858.2 1168.8,860 1170.9,860.5 1173,861.9 1175.1,864.5 1177.3,863.5 1179.4,862.5 1181.5,862.7 1183.6,861.6 1185.7,861.1 1187.9,860.2 1190,861.9 1192.1,862.5 1194.2,862.5 1196.3,863.4 1198.5,862.4 1200.6,862.4 1202.7,862.5 1204.8,863 1206.9,862.7 1209.1,861.5 1211.2,862 1213.3,863 1215.4,863.8 1217.6,865.2 1219.7,864.8 1221.8,866.2 1223.9,866.5 1226,867 1228.2,867.4 1230.3,867.6 1232.4,867.8 1234.5,868.5 1236.6,869.2 1238.8,870.6 1240.9,871.4 1243,873.6 1245.1,876.4 1247.2,877.6 1249.4,876.9 1251.5,876.5 1253.6,877 1255.7,877.9 1257.8,880.2 1260,881.4 1262.1,882.8 1264.2,882.9 1266.3,883.3 1268.5,884.1 1270.6,885.4 1272.7,884.7 1274.8,883.2 1276.9,881.8 1279.1,882.5 1281.2,883.3 1283.3,883.8 1285.4,884.3 1287.5,884.9 1289.7,885.8 1291.8,886 1293.9,888.3 1296,888.6 1298.1,890.2 1300.3,891.7 1302.4,894.1 1304.5,895.1 1306.6,894.5 1308.7,893.8 1310.9,893 1313,893.4 1315.1,891.1 1317.2,888.8 1319.4,887.1 1321.5,886.2 1323.6,880.5 1325.7,875.1 1327.8,871.1 1330,865.2 1332.1,860 1334.2,853 1336.3,846.1 1338.4,839.3 1341.6,830.8 1344,824.6 1346.5,829.5 1349,844.8 1352.2,867.8 1355.4,889.2 1358.6,903.1 1360.7,905.5 1362.8,908.3" fill="none" stroke="#7c7c7c" stroke-width="3.4" stroke-linejoin="round"/>
<polyline points="1111.5,908.2 1113.6,907.2 1115.7,906.5 1117.9,904.9 1120,904.3 1122.1,902.7 1124.2,901.4 1126.4,900.7 1128.5,899.7 1130.6,897.7 1132.7,897.6 1134.8,897 1137,895.9 1139.1,895.5 1141.2,895.2 1143.3,895.3 1145.4,895.3 1147.6,895.7 1149.7,896.5 1151.8,896.8 1153.9,897.3 1156,898.4 1158.2,899.2 1160.3,899.2 1162.4,899.7 1164.5,900.1 1166.6,901.2 1168.8,901.4 1170.9,900.8 1173,900.8 1175.1,901 1177.3,901.1 1179.4,901.1 1181.5,900.5 1183.6,900.4 1185.7,900.7 1187.9,900.2 1190,899.9 1192.1,899.8 1194.2,900.2 1196.3,899.4 1198.5,899.5 1200.6,899.1 1202.7,898.9 1204.8,899.2 1206.9,899.1 1209.1,898.3 1211.2,898 1213.3,898.3 1215.4,897.6 1217.6,897.2 1219.7,897.9 1221.8,897.1 1223.9,897.2 1226,896.4 1228.2,896.6 1230.3,895.9 1232.4,895.3 1234.5,894.6 1236.6,894.6 1238.8,894.1 1240.9,893.9 1243,893.2 1245.1,893.9 1247.2,893.8 1249.4,894 1251.5,893.8 1253.6,894.1 1255.7,894.3 1257.8,894.7 1260,893.9 1262.1,894.3 1264.2,894.9 1266.3,895.3 1268.5,894.8 1270.6,895 1272.7,896 1274.8,896.4 1276.9,896.2 1279.1,896 1281.2,897.2 1283.3,897 1285.4,897.3 1287.5,896.8 1289.7,896.8 1291.8,895.9 1293.9,896.3 1296,895 1298.1,894.4 1300.3,894.1 1302.4,893.3 1304.5,891.9 1307.2,889.8 1309.8,887.9 1311.9,883.5 1314.1,878.9 1316.7,870.2 1319.4,861.8 1321.5,852.8 1323.6,843.4 1326.8,830.9 1329.5,824 1332.5,828.8 1335.3,836.2 1338.4,856.1 1340.6,868.1 1342.7,881.3 1344.8,888.6 1346.9,896.1 1349,900.1 1351.2,904.4 1353.8,906.5 1356.5,908.3" fill="none" stroke="#000" stroke-width="2.5" stroke-linejoin="round"/>
<polyline points="1420.9,908.1 1423,906.8 1425.1,905.4 1427.2,904.5 1429.9,900.5 1432.5,896.8 1435.2,888.2 1437.8,881.2 1440.5,870.4 1443.1,859.4 1445.8,849.6 1448.4,839 1451.1,830 1453.7,821.1 1456.4,813.6 1459,805.1 1461.1,802 1463.3,799.3 1465.4,801.4 1467.5,804.6 1469.6,806.8 1471.7,808.2 1473.9,811.2 1477,818.8 1479.2,825.2 1481.3,830.6 1484.5,837.5 1487.1,835.8 1489.8,835.4 1492.4,840 1495.1,845.7 1497.7,848.1 1500.4,852.9 1502.7,853.9 1505.1,854.3 1507.5,855.2 1509.9,855.1 1512,855.6 1514.1,854.1 1516.2,854.2 1518.9,859.4 1521.5,863.5 1523.9,864.4 1526.3,864.5 1528.7,863 1531.1,863.4 1533.2,865.7 1535.3,866.4 1537.4,869.3 1539.6,870 1541.7,871.8 1543.8,871.7 1545.9,873.2 1548,874.8 1550.2,874.6 1552.3,875.8 1554.4,877.3 1556.5,878.1 1558.6,878.7 1560.8,880 1562.9,880.9 1565,883.1 1567.1,883.6 1569.2,884.9 1571.4,884.7 1573.5,887.2 1575.6,887.6 1577.7,889.7 1579.8,891.4 1582,891.4 1584.1,892.7 1586.2,892.7 1588.3,893.3 1590.4,894.2 1592.6,893.5 1594.7,895.8 1596.8,896 1598.9,896.5 1601,898 1603.1,898 1605.3,899.7 1607.4,899.6 1609.5,899.8 1611.6,901 1613.7,901 1615.9,900.6 1618,901.5 1620.1,900.4 1622.2,901.6 1624.3,900.7 1626.5,901.3 1628.6,901.9 1630.7,901.2 1632.8,901.4 1634.9,900.8 1637.1,899.8 1639.2,899.3 1641.3,898.9 1643.4,899.1 1645.5,898.2 1647.7,897.1 1649.8,896.4 1651.9,894 1654,892.8 1656.5,891.2 1659,887.8 1661.4,885.5 1665,892.4 1668.9,903.7 1672,908.1" fill="none" stroke="#7c7c7c" stroke-width="3.4" stroke-linejoin="round"/>
<polyline points="1431.5,908.1 1433.6,907 1435.7,905.8 1437.8,904.5 1439.9,903.8 1442.1,902.7 1444.2,901.1 1446.3,900.4 1448.4,899.1 1450.5,897.6 1452.7,897.7 1454.8,896.4 1456.9,895.7 1459,895 1461.1,895.5 1463.3,895.8 1465.4,895.7 1467.5,895.3 1469.6,895.9 1471.7,896.4 1473.9,897.8 1476,898.4 1478.1,898.7 1480.2,899.4 1482.3,899.7 1484.5,900.6 1486.6,900.9 1488.7,900.9 1490.8,901.4 1492.9,900.5 1495.1,900.9 1497.2,900.7 1499.3,900.5 1501.4,900.2 1503.5,900.8 1505.7,899.8 1507.8,900.2 1509.9,900.4 1512,899.4 1514.1,899.3 1516.2,899.5 1518.4,899.2 1520.5,899.2 1522.6,899.1 1524.7,898.3 1526.8,898.2 1529,898 1531.1,897.6 1533.2,898.3 1535.3,898 1537.4,897.7 1539.6,896.8 1541.7,897.3 1543.8,896.9 1545.9,896.3 1548,896.3 1550.2,895.7 1552.3,895.1 1554.4,894.5 1556.5,894.1 1558.6,893.3 1560.8,893.1 1562.9,893.7 1565,893.7 1567.1,894 1569.2,894 1571.4,893.7 1573.5,894.2 1575.6,894.1 1577.7,894.4 1579.8,894.1 1582,893.9 1584.1,894.5 1586.2,895.1 1588.3,894.6 1590.4,895.5 1592.6,894.9 1594.7,895.4 1596.8,895.7 1598.9,896.5 1601,897 1603.1,897.1 1605.3,896.5 1607.4,896.8 1609.5,896.1 1611.6,895.8 1613.7,896.2 1615.9,895.2 1618,894.5 1620.1,893.7 1622.2,893.2 1624.3,892 1627,890.2 1629.6,888 1631.8,883.7 1633.9,878.8 1636.5,870.6 1639.2,862 1641.3,852.2 1643.4,842.5 1646.6,831.3 1649.4,823.3 1652.3,828.8 1655.1,836.1 1658.3,855.1 1660.4,867.9 1662.5,881.4 1664.6,888.2 1666.7,895.5 1668.9,899.6 1671,903.8 1673.6,906.4 1676.3,908.1" fill="none" stroke="#000" stroke-width="2.5" stroke-linejoin="round"/>
<rect x="93.8" y="587.4" width="1604.6" height="320.8" fill="none" stroke="#1e1e1e" stroke-width="2.6"/>
<line x1="414.5" y1="587.4" x2="414.5" y2="908.2" stroke="#000" stroke-width="2.6"/>
<line x1="735.5" y1="587.4" x2="735.5" y2="908.2" stroke="#000" stroke-width="2.6"/>
<line x1="1056.8" y1="587.4" x2="1056.8" y2="908.2" stroke="#000" stroke-width="2.6"/>
<line x1="1377.8" y1="587.4" x2="1377.8" y2="908.2" stroke="#000" stroke-width="2.6"/>
<line x1="92.8" y1="908.2" x2="1699.4" y2="908.2" stroke="#000" stroke-width="3"/>
<line x1="70.6" y1="613" x2="70.6" y2="806" stroke="#000" stroke-width="2"/>
<polygon points="70.6,590.3 82.9,615.5 58.3,615.5" fill="#000"/>
<text x="84.3" y="867.3" font-size="35.5" text-anchor="middle" textLength="90" lengthAdjust="spacing" transform="rotate(-90 84.3 867.3)">Count</text>
<text x="91.8" y="951.2" font-size="35" textLength="75.5" lengthAdjust="spacing">Ly6C</text>
<line x1="194.5" y1="941.2" x2="1678" y2="941.2" stroke="#000" stroke-width="2"/>
<polygon points="1701.2,941.2 1675,928.8 1675,953.6" fill="#000"/>
<line x1="94.9" y1="1058.5" x2="94.9" y2="1485.3" stroke="#000" stroke-width="2.8"/>
<line x1="86.4" y1="1090.7" x2="94.9" y2="1090.7" stroke="#000" stroke-width="2.8"/>
<text x="80.9" y="1101.5" font-size="30.5" text-anchor="end">6</text>
<line x1="86.4" y1="1151.4" x2="94.9" y2="1151.4" stroke="#000" stroke-width="2.8"/>
<text x="80.9" y="1162.2" font-size="30.5" text-anchor="end">4</text>
<line x1="86.4" y1="1212.1" x2="94.9" y2="1212.1" stroke="#000" stroke-width="2.8"/>
<text x="80.9" y="1222.9" font-size="30.5" text-anchor="end">2</text>
<line x1="86.4" y1="1272.8" x2="94.9" y2="1272.8" stroke="#000" stroke-width="2.8"/>
<text x="80.9" y="1283.6" font-size="30.5" text-anchor="end">0</text>
<line x1="86.4" y1="1333.5" x2="94.9" y2="1333.5" stroke="#000" stroke-width="2.8"/>
<text x="80.9" y="1344.3" font-size="30.5" text-anchor="end">-2</text>
<line x1="86.4" y1="1394.2" x2="94.9" y2="1394.2" stroke="#000" stroke-width="2.8"/>
<text x="80.9" y="1405" font-size="30.5" text-anchor="end">-4</text>
<line x1="86.4" y1="1454.9" x2="94.9" y2="1454.9" stroke="#000" stroke-width="2.8"/>
<text x="80.9" y="1465.7" font-size="30.5" text-anchor="end">-6</text>
<line x1="93.5" y1="1484.3" x2="732.3" y2="1484.3" stroke="#000" stroke-width="2.8"/>
<line x1="160.9" y1="1484.3" x2="160.9" y2="1492.8" stroke="#000" stroke-width="2.8"/>
<line x1="262.2" y1="1484.3" x2="262.2" y2="1492.8" stroke="#000" stroke-width="2.8"/>
<line x1="362.8" y1="1484.3" x2="362.8" y2="1492.8" stroke="#000" stroke-width="2.8"/>
<line x1="462.7" y1="1484.3" x2="462.7" y2="1492.8" stroke="#000" stroke-width="2.8"/>
<line x1="563.6" y1="1484.3" x2="563.6" y2="1492.8" stroke="#000" stroke-width="2.8"/>
<line x1="664.2" y1="1484.3" x2="664.2" y2="1492.8" stroke="#000" stroke-width="2.8"/>
<text x="160.9" y="1525" font-size="29.5" text-anchor="middle" textLength="96" lengthAdjust="spacing">No IRE</text>
<text x="262.2" y="1525" font-size="29.5" text-anchor="middle" textLength="55.5" lengthAdjust="spacing">0.25</text>
<text x="362.8" y="1525" font-size="29.5" text-anchor="middle" textLength="41" lengthAdjust="spacing">0.5</text>
<text x="462.7" y="1525" font-size="29.5" text-anchor="middle">1</text>
<text x="563.6" y="1525" font-size="29.5" text-anchor="middle">3</text>
<text x="664.2" y="1525" font-size="29.5" text-anchor="middle">7</text>
<text x="412.5" y="1569.5" font-size="33" text-anchor="middle" textLength="211" lengthAdjust="spacing">Days Post IRE</text>
<text transform="translate(34.3 1425.8) rotate(-90)" font-size="33.3">Ly6C<tspan font-size="24" dy="-14.8">hi</tspan><tspan dy="14.8">/Ly6C</tspan><tspan font-size="24" dy="-14.8">lo</tspan><tspan dy="14.8"> (log</tspan><tspan font-size="24" dy="7.6">2</tspan><tspan dy="-7.6">)</tspan></text>
<rect x="129.6" y="1215.1" width="65.2" height="57.7" fill="#fff" stroke="#000" stroke-width="2.5"/>
<rect x="230.4" y="1139.3" width="64.2" height="133.5" fill="#fff" stroke="#000" stroke-width="2.5"/>
<rect x="330.5" y="1163.5" width="65" height="109.3" fill="#fff" stroke="#000" stroke-width="2.5"/>
<rect x="431.6" y="1196.9" width="64.2" height="75.9" fill="#fff" stroke="#000" stroke-width="2.5"/>
<rect x="531" y="1271.3" width="66" height="1.5" fill="#fff" stroke="#000" stroke-width="2.5"/>
<rect x="632.5" y="1272.8" width="63.7" height="76.5" fill="#fff" stroke="#000" stroke-width="2.5"/>
<line x1="86.4" y1="1272.8" x2="732.3" y2="1272.8" stroke="#000" stroke-width="2.8"/>
<line x1="161.8" y1="1208.9" x2="161.8" y2="1215.8" stroke="#000" stroke-width="2.2"/>
<line x1="151.3" y1="1208.9" x2="172.3" y2="1208.9" stroke="#000" stroke-width="2.2"/>
<line x1="262.5" y1="1134.4" x2="262.5" y2="1139.4" stroke="#000" stroke-width="2.2"/>
<line x1="252" y1="1134.4" x2="273" y2="1134.4" stroke="#000" stroke-width="2.2"/>
<line x1="363" y1="1157.5" x2="363" y2="1163.5" stroke="#000" stroke-width="2.2"/>
<line x1="352.5" y1="1157.5" x2="373.5" y2="1157.5" stroke="#000" stroke-width="2.2"/>
<line x1="463.5" y1="1193.6" x2="463.5" y2="1197.6" stroke="#000" stroke-width="2.2"/>
<line x1="453" y1="1193.6" x2="474" y2="1193.6" stroke="#000" stroke-width="2.2"/>
<line x1="563.6" y1="1264.6" x2="563.6" y2="1271" stroke="#000" stroke-width="2.2"/>
<line x1="553.1" y1="1264.6" x2="574.1" y2="1264.6" stroke="#000" stroke-width="2.2"/>
<line x1="663.6" y1="1349" x2="663.6" y2="1358.8" stroke="#000" stroke-width="2.2"/>
<line x1="651.6" y1="1358.8" x2="675.6" y2="1358.8" stroke="#000" stroke-width="2.2"/>
<circle cx="150.9" cy="1207.9" r="7.9" fill="#000"/>
<circle cx="172.3" cy="1212" r="7.9" fill="#000"/>
<circle cx="161.6" cy="1224.1" r="7.9" fill="#000"/>
<circle cx="251.4" cy="1130.8" r="7.9" fill="#000"/>
<circle cx="251.4" cy="1144" r="7.9" fill="#000"/>
<circle cx="272.7" cy="1141.5" r="7.9" fill="#000"/>
<circle cx="351.7" cy="1155.3" r="7.9" fill="#000"/>
<circle cx="351.7" cy="1168.3" r="7.9" fill="#000"/>
<circle cx="372.9" cy="1164.6" r="7.9" fill="#000"/>
<circle cx="434.9" cy="1193.4" r="7.9" fill="#000"/>
<circle cx="434.9" cy="1209.5" r="7.9" fill="#000"/>
<circle cx="453.7" cy="1183.6" r="7.9" fill="#000"/>
<circle cx="472.1" cy="1192.4" r="7.9" fill="#000"/>
<circle cx="472.1" cy="1205.2" r="7.9" fill="#000"/>
<circle cx="491.2" cy="1183.8" r="7.9" fill="#000"/>
<circle cx="491.2" cy="1202.5" r="7.9" fill="#000"/>
<circle cx="552.6" cy="1262.7" r="7.9" fill="#000"/>
<circle cx="574.4" cy="1262.3" r="7.9" fill="#000"/>
<circle cx="552.6" cy="1278.2" r="7.9" fill="#000"/>
<circle cx="574.4" cy="1276.3" r="7.9" fill="#000"/>
<circle cx="653.3" cy="1338.5" r="7.9" fill="#000"/>
<circle cx="675.1" cy="1331.8" r="7.9" fill="#000"/>
<circle cx="653.3" cy="1367" r="7.9" fill="#000"/>
<circle cx="675.1" cy="1363" r="7.9" fill="#000"/>
<polyline points="159.2,1180 159.2,1103.2 263.5,1103.2 263.5,1112.5" fill="none" stroke="#000" stroke-width="2.5"/>
<polyline points="159.2,1090.5 159.2,1063.2 365.6,1063.2 365.6,1139.2" fill="none" stroke="#000" stroke-width="2.5"/>
<polyline points="159.2,1046.8 159.2,1018.6 463,1018.6 463,1157.5" fill="none" stroke="#000" stroke-width="2.5"/>
<polyline points="159.6,1302.1 159.6,1328.3 567.7,1328.3 567.7,1302.3" fill="none" stroke="#000" stroke-width="2.5"/>
<polyline points="160.2,1343 160.2,1429 666.7,1429 666.7,1400.6" fill="none" stroke="#000" stroke-width="2.5"/>
<text x="211.4" y="1114.4" font-size="33.5" text-anchor="middle" textLength="55" lengthAdjust="spacing">****</text>
<text x="261.6" y="1070.1" font-size="33.5" text-anchor="middle" textLength="55" lengthAdjust="spacing">****</text>
<text x="304.4" y="1025.6" font-size="33.5" text-anchor="middle">*</text>
<text x="363.6" y="1366.1" font-size="33.5" text-anchor="middle" textLength="55" lengthAdjust="spacing">****</text>
<text x="412.9" y="1466.1" font-size="33.5" text-anchor="middle" textLength="55" lengthAdjust="spacing">****</text>
<line x1="790.8" y1="1105" x2="790.8" y2="1441" stroke="#000" stroke-width="4.5"/>
<polygon points="790.8,1083.5 800.8,1110.4 780.8,1110.4" fill="#000"/>
<polygon points="790.8,1462 800.8,1435.8 780.8,1435.8" fill="#000"/>
<line x1="751.6" y1="1273.1" x2="830.4" y2="1273.1" stroke="#000" stroke-width="2.2"/>
<text x="809.5" y="1180.5" font-size="30.5" text-anchor="middle" textLength="161" lengthAdjust="spacing" transform="rotate(90 809.5 1180.5)">Inflammatory</text>
<text x="809.5" y="1360" font-size="30.5" text-anchor="middle" textLength="138" lengthAdjust="spacing" transform="rotate(90 809.5 1360)">Reparative</text>
</svg></body></html>
